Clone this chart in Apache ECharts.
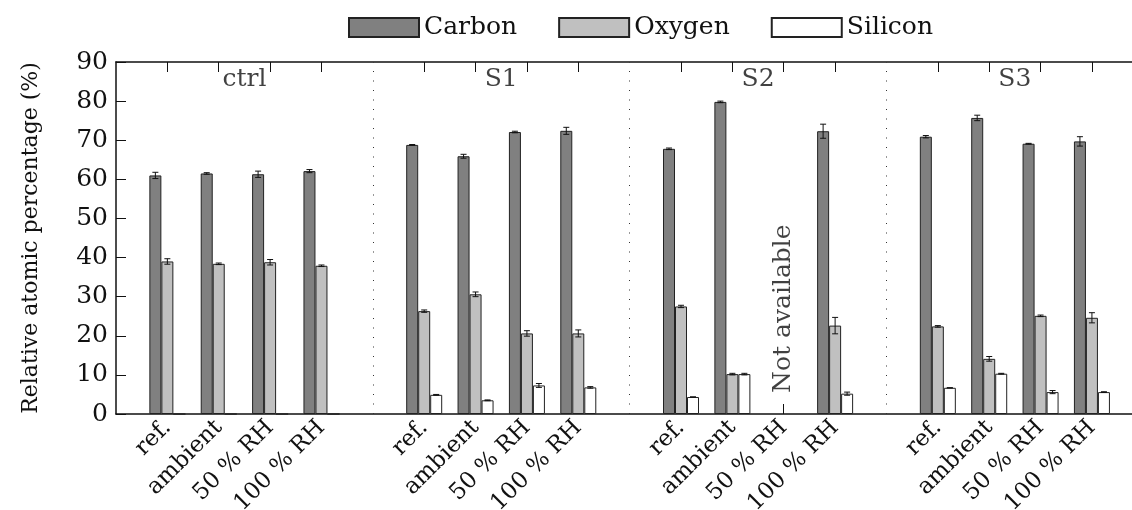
<!DOCTYPE html>
<html>
<head>
<meta charset="utf-8">
<script src="https://cdn.jsdelivr.net/npm/echarts@6/dist/echarts.min.js"></script>
<style>
html,body{margin:0;padding:0;background:#fff;}
#chart{width:1132px;height:510px;}
</style>
</head>
<body>
<div id="chart"></div>
<script>
// ---- data ----
const groups = ['ctrl', 'S1', 'S2', 'S3'];
const categories = ['ref.', 'ambient', '50 % RH', '100 % RH'];
const seriesNames = ['Carbon', 'Oxygen', 'Silicon'];
// values ordered group by group (ctrl, S1, S2, S3), each with 4 categories
const carbon    = [61.0, 61.5, 61.3, 62.1,  68.8, 65.9, 72.1, 72.4,  67.8, 79.8, null, 72.3,  70.9, 75.7, 69.1, 69.7];
const carbonErr = [0.8,  0.2,  0.8,  0.4,   0.1,  0.5,  0.2,  0.9,   0.2,  0.2,  null, 1.8,   0.3,  0.7,  0.1,  1.2];
const oxygen    = [39.0, 38.4, 38.8, 37.9,  26.3, 30.6, 20.6, 20.6,  27.5, 10.2, null, 22.6,  22.4, 14.1, 25.1, 24.6];
const oxygenErr = [0.7,  0.2,  0.7,  0.2,   0.3,  0.6,  0.7,  0.9,   0.3,  0.2,  null, 2.1,   0.2,  0.6,  0.2,  1.3];
const silicon   = [0,    0,    0,    0,     4.9,  3.5,  7.3,  6.8,   4.35, 10.2, null, 5.2,   6.7,  10.3, 5.6,  5.6];
const siliconErr= [0,    0,    0,    0,     0.1,  0.1,  0.5,  0.2,   0,    0.2,  null, 0.4,   0,    0.1,  0.4,  0.1];
const naText = 'Not available';
const naIndex = 10; // S2, 50 % RH
const yTicks = [0, 10, 20, 30, 40, 50, 60, 70, 80, 90];
const yTitle = 'Relative atomic percentage (%)';

// ---- derived layout on the x value scale: group g, category c -> g*5 + c ----
const nCat = categories.length;
const slot = nCat + 1;
const xOf = i => Math.floor(i / nCat) * slot + (i % nCat);
const xs = carbon.map((_, i) => xOf(i));
const labelOf = {};
xs.forEach((x, i) => { labelOf[x] = categories[i % nCat]; });
const separators = groups.slice(1).map((_, g) => (g + 1) * slot - 1);

const FONT = 'DejaVu Serif';
const TXT = '#111';
const fills = ['#808080', '#c0c0c0', '#ffffff'];
const vals = [carbon, oxygen, silicon];
const errs = [carbonErr, oxygenErr, siliconErr];
const BW = 12;

const barSeries = seriesNames.map((name, s) => ({
  name, type: 'bar', barWidth: BW, barGap: '0%',
  itemStyle: { color: fills[s], borderColor: '#222', borderWidth: 1 },
  data: vals[s].map((v, i) => [xs[i], v == null ? '-' : v]),
  z: 2
}));

const errData = [];
seriesNames.forEach((_, s) => {
  vals[s].forEach((v, i) => {
    if (v == null || v === 0) return;
    errData.push([xs[i], v, errs[s][i], (s - 1) * BW]);
  });
});

const errorSeries = {
  type: 'custom', name: 'err', silent: true, z: 5,
  encode: { x: 0, y: 1 },
  data: errData,
  renderItem(params, api) {
    const x = api.value(0), v = api.value(1), e = api.value(2), off = api.value(3);
    const hi = api.coord([x, v + e]), lo = api.coord([x, v - e]);
    const cx = hi[0] + off, w = 3;
    const st = { stroke: '#111', lineWidth: 1 };
    return { type: 'group', children: [
      { type: 'line', shape: { x1: cx, y1: hi[1], x2: cx, y2: lo[1] }, style: st },
      { type: 'line', shape: { x1: cx - w, y1: hi[1], x2: cx + w, y2: hi[1] }, style: st },
      { type: 'line', shape: { x1: cx - w, y1: lo[1], x2: cx + w, y2: lo[1] }, style: st }
    ]};
  }
};

// group titles + separators, anchored through the axes
const titleSeries = {
  type: 'scatter', symbolSize: 0, silent: true, z: 6,
  data: groups.map((g, k) => ({ value: [k * slot + (nCat - 1) / 2, 85.5], name: g })),
  label: { show: true, position: 'inside', formatter: p => p.name,
    fontFamily: FONT, fontSize: 25, color: TXT },
  markLine: {
    silent: true, symbol: 'none', label: { show: false },
    lineStyle: { color: '#333', width: 1, type: [1, 8.5] },
    data: separators.map(x => ({ xAxis: x }))
  }
};
const naSeries = {
  type: 'scatter', symbolSize: 0, silent: true, z: 6,
  data: [{ value: [xOf(naIndex), 5.4], name: naText }],
  label: { show: true, position: 'inside', formatter: p => p.name, rotate: 90,
    align: 'left', verticalAlign: 'middle',
    fontFamily: FONT, fontSize: 25, color: TXT }
};

const xMin = -1, xMax = 18.78;
const tickVals = xs.slice();

const chart = echarts.init(document.getElementById('chart'), null, { renderer: 'canvas' });
chart.setOption({
  animation: false,
  backgroundColor: '#fff',
  legend: {
    data: seriesNames, left: 343, top: 10, itemWidth: 70, itemHeight: 19, itemGap: 41,
    icon: 'rect',
    textStyle: { fontFamily: FONT, fontSize: 25, color: TXT }
  },
  grid: { left: 116, right: 0, top: 62, bottom: 96, containLabel: false, outerBoundsMode: 'none' },
  xAxis: [
    { type: 'value', min: xMin, max: xMax, position: 'bottom',
      axisLine: { show: true, onZero: false, lineStyle: { color: '#111', width: 1.5 } },
      axisTick: { show: true, inside: true, length: 10, customValues: tickVals, lineStyle: { color: '#111' } },
      axisLabel: { show: true, customValues: tickVals, rotate: 45, margin: 10,
        formatter: v => labelOf[v] || '', fontFamily: FONT, fontSize: 23, color: TXT },
      splitLine: { show: false } },
    { type: 'value', min: xMin, max: xMax, position: 'top',
      axisLine: { show: true, onZero: false, lineStyle: { color: '#111', width: 1.5 } },
      axisTick: { show: true, inside: true, length: 10, customValues: tickVals, lineStyle: { color: '#111' } },
      axisLabel: { show: false }, splitLine: { show: false } }
  ],
  yAxis: {
    type: 'value', min: yTicks[0], max: yTicks[yTicks.length - 1], interval: yTicks[1] - yTicks[0],
    name: yTitle, nameLocation: 'middle', nameGap: 74, nameRotate: 90,
    nameTextStyle: { fontFamily: FONT, fontSize: 22, color: TXT },
    axisLine: { show: true, onZero: false, lineStyle: { color: '#111', width: 1.5 } },
    axisTick: { show: true, inside: true, length: 10, lineStyle: { color: '#111' } },
    axisLabel: { fontFamily: FONT, fontSize: 25, color: TXT, margin: 8 },
    splitLine: { show: false }
  },
  series: [...barSeries, errorSeries, titleSeries, naSeries]
});
</script>
</body>
</html>
